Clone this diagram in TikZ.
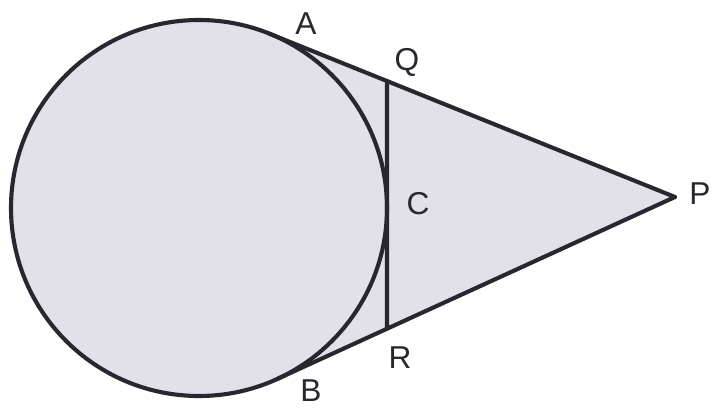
\documentclass[tikz,border=0pt]{standalone}
\usepackage{fontspec}
\setmainfont{Liberation Sans}
\usepackage{tikz}
\usetikzlibrary{calc}

\definecolor{diskfill}{RGB}{226,224,233}
\definecolor{ink}{RGB}{40,38,46}

\begin{document}
\begin{tikzpicture}[
    x=0.03cm, y=0.03cm,
    edge/.style={draw=ink, line width=3.5pt, line join=round, line cap=round},
    lbl/.style={text=ink, font=\fontsize{27}{31}\selectfont, inner sep=0pt}
]
\useasboundingbox (0,0) rectangle (712,409);

% points
\coordinate (O) at (199,201);
\coordinate (P) at (675,212);
\coordinate (A) at ($(O)+(68.06:188)$);
\coordinate (B) at ($(O)+(-65.42:188)$);
\coordinate (C) at ($(O)+(0:188)$);
\coordinate (Q) at ($(P)!0.7097!(A)$);
\coordinate (R) at ($(P)!0.7240!(B)$);

% shaded region
\fill[diskfill] (A) -- (P) -- (B) arc[start angle=-65.42, end angle=-291.94, radius=188] -- cycle;

% outline
\draw[edge] (O) circle[radius=188];
\draw[edge] (A) -- (P);
\draw[edge] (B) -- (P);
\draw[edge] (Q) -- (R);

% labels
\node[lbl] (lA) at (306,385) {A};
\node[lbl] (lQ) at (407,347) {Q};
\node[lbl] (lC) at (418,205) {C};
\node[lbl] (lP) at (700,215) {P};
\node[lbl] (lR) at (400,51)  {R};
\node[lbl] (lB) at (311,18)  {B};
\end{tikzpicture}
\end{document}
